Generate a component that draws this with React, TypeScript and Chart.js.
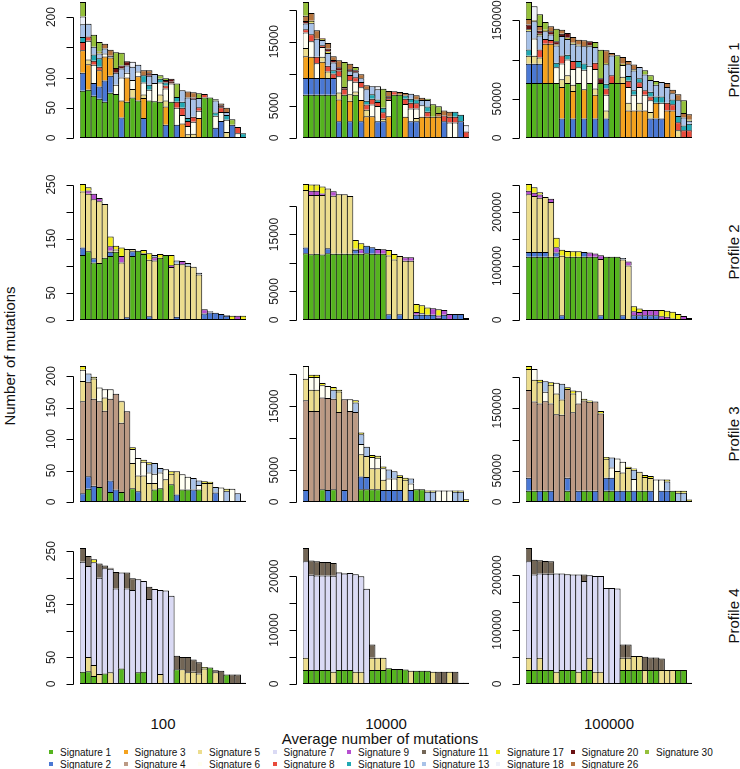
import { useEffect, useRef } from "react";
import { Chart, registerables } from "chart.js";

Chart.register(...registerables);

type Seg = [number, number];

const SIGNATURES = [1, 2, 3, 4, 5, 6, 7, 8, 9, 10, 11, 13, 17, 18, 20, 26, 30];
const SIGNATURE_COLORS = [
  "#55B41E", "#4A78D4", "#F4A21E", "#BC9A84", "#ECDD8E", "#FFFFF2", "#DADAF4", "#E84A3A", "#B64FD0",
  "#21A9B3", "#736656", "#A8C2E8", "#F2EE1C", "#EEF1FA", "#6A1012", "#B5743E", "#95C03B",
];
const LEGEND_ROW_1 = [1, 3, 5, 7, 9, 11, 17, 20, 30];
const LEGEND_ROW_2 = [2, 4, 6, 8, 10, 13, 18, 26];
const COLUMN_LABELS = ["100", "10000", "100000"];
const PROFILE_LABELS = ["Profile 1", "Profile 2", "Profile 3", "Profile 4"];
const X_TITLE = "Average number of mutations";
const Y_TITLE = "Number of mutations";

const TICKS_R1 = [[0, 50, 100, 150, 200], [0, 5000, 10000, 15000, 20000], [0, 50000, 100000, 150000]];
const SHOWN_R1 = [[0, 50, 100, 200], [0, 5000, 15000], [0, 50000, 150000]];
const TICKS_R2 = [[0, 50, 100, 150, 200, 250], [0, 5000, 10000, 15000, 20000], [0, 50000, 100000, 150000, 200000, 250000]];
const SHOWN_R2 = [[0, 50, 150, 250], [0, 5000, 15000], [0, 100000, 200000]];
const TICKS_R3 = [[0, 50, 100, 150, 200], [0, 5000, 10000, 15000, 20000], [0, 50000, 100000, 150000, 200000]];
const SHOWN_R3 = [[0, 50, 100, 150, 200], [0, 5000, 15000], [0, 50000, 150000]];
const TICKS_R4 = [[0, 50, 100, 150, 200, 250], [0, 5000, 10000, 15000, 20000], [0, 50000, 100000, 150000, 200000]];
const SHOWN_R4 = [[0, 50, 150, 250], [0, 10000, 20000], [0, 100000, 200000]];

const P1_100: Seg[][] = [
  [[1, 78], [2, 30], [3, 37], [8, 14], [10, 8], [13, 21], [18, 13], [30, 24]],
  [[1, 80], [3, 42], [5, 8], [6, 31], [8, 7], [13, 21]],
  [[1, 70], [2, 21], [6, 30], [8, 7], [10, 10], [13, 13], [30, 20]],
  [[1, 65], [2, 20], [3, 27], [8, 6], [10, 14], [13, 8], [17, 3], [30, 16]],
  [[1, 60], [2, 35], [3, 40], [6, 5], [13, 8], [26, 8]],
  [[1, 75], [2, 28], [3, 30], [13, 3], [26, 10]],
  [[1, 73], [6, 15], [13, 20], [20, 8], [30, 26]],
  [[2, 34], [3, 28], [6, 38], [13, 15], [20, 5], [30, 21]],
  [[1, 60], [3, 40], [6, 8], [13, 12], [20, 7]],
  [[1, 67], [5, 14], [6, 15], [13, 22], [18, 8]],
  [[1, 62], [3, 40], [6, 8], [13, 11]],
  [[2, 33], [3, 33], [5, 6], [6, 20], [10, 12], [26, 8]],
  [[1, 62], [6, 18], [10, 8], [13, 15], [20, 4], [26, 5]],
  [[1, 61], [6, 30], [13, 15]],
  [[1, 60], [5, 12], [6, 20], [10, 6], [30, 6]],
  [[2, 22], [3, 30], [5, 10], [6, 20], [8, 5], [10, 5], [20, 4], [30, 3]],
  [[1, 60], [6, 30], [8, 3], [20, 5]],
  [[2, 22], [6, 28], [8, 10], [10, 8], [30, 22]],
  [[3, 24], [6, 14], [8, 12], [10, 10], [13, 19]],
  [[5, 6], [6, 14], [8, 8], [10, 5], [13, 34], [26, 10]],
  [[5, 7], [6, 20], [8, 8], [13, 30], [20, 2], [26, 8.5]],
  [[3, 33], [6, 12], [8, 6], [13, 15], [30, 8]],
  [[1, 67], [8, 6]],
  [[1, 67]],
  [[2, 17], [6, 20], [10, 5], [13, 20], [30, 2]],
  [[2, 28], [6, 15], [8, 8], [20, 3], [26, 3]],
  [[5, 10], [6, 20], [10, 8], [13, 5], [26, 7]],
  [[2, 22], [30, 9]],
  [[6, 8], [8, 10]],
  [[10, 8]],
];

const P1_10000: Seg[][] = [
  [[1, 6750], [2, 2600], [3, 3370], [5, 1300], [6, 2400], [8, 500], [13, 900], [20, 400], [26, 800], [30, 2150]],
  [[1, 6750], [2, 2600], [3, 3300], [6, 2400], [8, 1100], [13, 1800], [17, 300], [26, 1210]],
  [[1, 6750], [2, 2600], [6, 2300], [8, 1000], [13, 2800], [26, 1310]],
  [[1, 6750], [2, 2600], [3, 2500], [5, 800], [6, 1500], [8, 300], [13, 800], [17, 200], [20, 120]],
  [[1, 6750], [2, 2600], [5, 1000], [8, 900], [13, 2000], [17, 200], [20, 500], [26, 840]],
  [[1, 6750], [2, 2600], [8, 700], [10, 500], [13, 1200], [20, 400], [26, 560]],
  [[2, 2600], [3, 3400], [5, 1100], [6, 2500], [8, 900], [20, 500], [26, 1090]],
  [[1, 6750], [8, 900], [20, 300], [30, 3880]],
  [[2, 2600], [3, 3200], [5, 1000], [6, 2200], [8, 800], [13, 600], [20, 300], [26, 870]],
  [[1, 6750], [5, 500], [6, 1500], [8, 700], [13, 800], [20, 300], [30, 500]],
  [[2, 2600], [3, 3300], [6, 2000], [8, 800], [13, 600], [26, 610]],
  [[3, 3400], [5, 1000], [8, 800], [10, 600], [13, 1800], [26, 600]],
  [[3, 3400], [6, 1800], [8, 900], [10, 700], [13, 1240]],
  [[2, 2600], [6, 2400], [8, 600], [10, 400], [13, 1600], [18, 440]],
  [[2, 2600], [5, 400], [8, 1000], [10, 700], [30, 2980]],
  [[3, 3400], [6, 2500], [8, 300], [20, 300], [26, 820]],
  [[1, 6750], [8, 520]],
  [[1, 6750], [26, 410]],
  [[3, 3300], [6, 2000], [8, 800], [10, 500], [26, 400]],
  [[2, 2600], [6, 2000], [8, 900], [10, 600], [13, 800]],
  [[2, 2600], [5, 500], [6, 1500], [8, 800], [10, 600], [26, 640]],
  [[3, 3300], [6, 1800], [13, 800], [26, 380]],
  [[3, 3300], [8, 800], [10, 800], [13, 1000], [30, 220]],
  [[3, 3300], [30, 1940]],
  [[3, 3300], [26, 600], [30, 1030]],
  [[2, 2600], [8, 900], [26, 800]],
  [[6, 2400], [8, 900], [26, 800]],
  [[6, 2400], [8, 900], [10, 800]],
  [[2, 2600], [10, 1030]],
  [[8, 1000], [18, 970]],
];

const P1_100000: Seg[][] = [
  [[1, 70000], [2, 24700], [5, 10000], [10, 8000], [13, 24000], [17, 2000], [20, 6000], [26, 7000], [30, 21600]],
  [[1, 70000], [2, 24700], [5, 10000], [6, 22000], [13, 22000], [17, 1500], [18, 17600]],
  [[1, 70000], [2, 24700], [5, 8000], [8, 10000], [13, 18000], [17, 2000], [20, 4000], [26, 6000], [30, 14900]],
  [[1, 70000], [3, 50000], [8, 6000], [13, 10000], [17, 2000], [30, 9800]],
  [[1, 70000], [3, 50000], [8, 5000], [13, 7000], [20, 4000], [26, 6300]],
  [[1, 70000], [6, 20000], [10, 6000], [13, 22000], [17, 1300], [20, 4000], [30, 16000]],
  [[2, 25000], [3, 40000], [5, 10000], [6, 20000], [8, 10000], [13, 25000], [20, 3000], [26, 5000]],
  [[1, 70000], [5, 10000], [6, 20000], [10, 6000], [13, 20000], [17, 1800], [20, 6000]],
  [[2, 25000], [3, 35000], [5, 8000], [6, 20000], [8, 10000], [13, 22000], [17, 1500], [26, 7200]],
  [[1, 70000], [6, 20000], [10, 8000], [13, 20000], [17, 1300], [26, 6000]],
  [[2, 25000], [3, 37000], [6, 25000], [10, 8000], [13, 22000], [26, 7500]],
  [[1, 70000], [6, 22000], [13, 25000], [17, 1200], [20, 5000]],
  [[2, 25000], [3, 30000], [5, 8000], [6, 25000], [8, 8000], [13, 20000], [30, 6300]],
  [[1, 70000], [20, 6000], [30, 36600]],
  [[2, 25000], [5, 10000], [6, 20000], [8, 8000], [10, 6000], [13, 25000], [17, 1700], [26, 16000]],
  [[1, 70000], [8, 10000], [13, 25000], [26, 3300]],
  [[1, 70000], [30, 35300]],
  [[3, 70000], [5, 8000], [6, 15000], [17, 1500], [26, 8700]],
  [[3, 35000], [5, 10000], [6, 20000], [8, 8000], [10, 6000], [13, 15000], [26, 4100]],
  [[3, 35000], [6, 20000], [10, 6000], [13, 25000], [17, 1500], [26, 6000]],
  [[3, 35000], [5, 10000], [6, 20000], [8, 6000], [10, 5000], [13, 14500]],
  [[3, 35000], [6, 20000], [8, 6000], [13, 20000], [30, 5200]],
  [[2, 25000], [5, 8000], [6, 15000], [8, 5000], [10, 6000], [13, 15000], [30, 5900]],
  [[2, 25000], [3, 20000], [10, 8000], [13, 15000], [30, 4600]],
  [[2, 25000], [6, 20000], [10, 8000], [13, 18400]],
  [[3, 35000], [8, 10000], [13, 20000], [26, 5100]],
  [[3, 35000], [8, 8000], [10, 6000], [13, 8000], [26, 4600]],
  [[5, 10000], [8, 10000], [10, 8000], [13, 20000], [26, 7600]],
  [[8, 10000], [10, 6000], [13, 10000], [26, 6000], [30, 16000]],
  [[8, 10000], [10, 8000], [13, 4000], [17, 1200], [26, 7000]],
];

const P2_100: Seg[][] = [
  [[1, 120], [2, 14], [5, 103], [17, 14]],
  [[1, 127], [5, 106], [9, 6], [17, 6]],
  [[1, 106], [2, 8], [5, 109], [9, 10]],
  [[1, 105], [5, 114], [9, 6]],
  [[1, 115], [5, 99]],
  [[1, 118], [2, 8], [5, 2], [9, 8], [17, 18]],
  [[1, 126], [5, 4], [17, 7]],
  [[5, 106], [9, 12], [17, 16]],
  [[2, 5], [5, 126]],
  [[1, 118], [2, 9], [5, 4]],
  [[1, 128]],
  [[1, 122], [5, 1], [17, 6]],
  [[2, 7], [5, 104], [17, 12]],
  [[5, 110], [9, 6], [13, 4]],
  [[1, 115], [17, 7]],
  [[1, 120]],
  [[5, 98], [9, 3], [17, 19]],
  [[2, 6], [5, 98], [13, 6]],
  [[5, 103], [9, 6]],
  [[5, 100], [13, 5]],
  [[5, 98.5]],
  [[5, 84], [13, 3]],
  [[2, 12], [9, 8]],
  [[2, 14], [13, 2]],
  [[2, 13.5]],
  [[2, 11]],
  [[2, 8], [13, 1]],
  [[17, 8]],
  [[9, 8]],
  [[17, 8]],
];

const P2_10000: Seg[][] = [
  [[1, 11700], [2, 1000], [5, 10100], [17, 1050]],
  [[1, 11520], [5, 10400], [9, 760], [17, 1070]],
  [[1, 11600], [5, 10300], [9, 750], [17, 1100]],
  [[1, 11500], [5, 10400], [9, 300], [17, 1200]],
  [[1, 11700], [2, 900], [5, 10450]],
  [[1, 11600], [5, 10200], [9, 800]],
  [[1, 11600], [5, 10450]],
  [[1, 11600], [5, 10450]],
  [[1, 11600], [5, 10160]],
  [[1, 11600], [2, 700], [5, 200], [17, 1540]],
  [[1, 11600], [5, 100], [9, 700], [17, 1050]],
  [[1, 11700], [2, 1300]],
  [[1, 11600], [2, 1150]],
  [[1, 11600], [9, 860]],
  [[1, 11600], [9, 800]],
  [[2, 1000], [5, 10300], [17, 980]],
  [[5, 10600], [17, 980]],
  [[2, 1000], [5, 10230]],
  [[5, 10400], [9, 600]],
  [[5, 10400], [9, 600]],
  [[2, 900], [9, 500], [17, 1400]],
  [[2, 900], [13, 300], [17, 1400]],
  [[2, 900], [17, 1300]],
  [[2, 900], [9, 1150]],
  [[2, 400], [9, 400], [17, 1070]],
  [[2, 900], [9, 850]],
  [[9, 1050]],
  [[2, 1050]],
  [[2, 1050]],
  [[13, 350]],
];

const P2_100000: Seg[][] = [
  [[1, 117000], [2, 9200], [5, 107000], [9, 6100], [17, 12700]],
  [[1, 117000], [2, 9200], [5, 103500], [9, 6100], [17, 10000]],
  [[1, 117000], [2, 9200], [5, 100400], [9, 6100], [17, 4000]],
  [[1, 117000], [2, 9200], [5, 101900]],
  [[1, 117000], [5, 101500], [9, 6000]],
  [[1, 117000], [2, 8000], [9, 10000], [17, 17500]],
  [[2, 9000], [5, 110000], [17, 11000]],
  [[1, 117000], [17, 11000]],
  [[1, 117000], [17, 10500]],
  [[1, 117000], [17, 10500]],
  [[1, 117000], [2, 9000]],
  [[1, 117000], [9, 8000]],
  [[1, 117000], [9, 6000]],
  [[2, 9000], [5, 104000], [9, 7000]],
  [[1, 117000]],
  [[1, 117000]],
  [[1, 117000]],
  [[2, 9000], [5, 103000], [13, 2700]],
  [[5, 101000], [9, 7600]],
  [[2, 9000], [9, 7000], [17, 9600]],
  [[2, 9000], [9, 6000], [17, 6400]],
  [[2, 9000], [9, 9300]],
  [[2, 9000], [9, 9300]],
  [[2, 9000], [9, 9300]],
  [[9, 7000], [17, 11300]],
  [[9, 6000], [17, 11000]],
  [[2, 3000], [17, 12250]],
  [[17, 11000]],
  [[9, 7300]],
  [[13, 3700]],
];

const P3_100: Seg[][] = [
  [[2, 14], [4, 146], [5, 32], [6, 18], [17, 6]],
  [[1, 21], [2, 20], [4, 150], [13, 13]],
  [[2, 26], [4, 138], [5, 32], [17, 3]],
  [[1, 24], [4, 136], [6, 22]],
  [[4, 145], [5, 21], [6, 13]],
  [[1, 16], [2, 18], [4, 130], [6, 15]],
  [[2, 20], [4, 152]],
  [[1, 16], [4, 110], [5, 34], [17, 1]],
  [[4, 144]],
  [[1, 22], [5, 40], [6, 22], [17, 3]],
  [[2, 17], [5, 25], [6, 28]],
  [[5, 42], [6, 22], [17, 3]],
  [[5, 30], [6, 17], [13, 13], [17, 3]],
  [[1, 20], [5, 10], [6, 15], [13, 17]],
  [[1, 22], [6, 25], [13, 7]],
  [[5, 36], [6, 16]],
  [[1, 28], [5, 17], [17, 4]],
  [[2, 12], [5, 37]],
  [[1, 20], [6, 24]],
  [[1, 20], [6, 20]],
  [[2, 20], [13, 18]],
  [[1, 20], [6, 7], [13, 7]],
  [[5, 30], [17, 3]],
  [[5, 30], [17, 2]],
  [[2, 15], [13, 9]],
  [[6, 23]],
  [[13, 18], [17, 3]],
  [[6, 21]],
  [[13, 14]],
  [[17, 2]],
];

const P3_10000: Seg[][] = [
  [[2, 1875], [4, 14070], [5, 3390], [6, 1980]],
  [[4, 14280], [5, 3330], [6, 1980], [17, 360]],
  [[4, 14280], [5, 3330], [6, 1980], [17, 360]],
  [[1, 1980], [4, 14380], [6, 1930], [17, 360]],
  [[2, 1900], [4, 14400], [6, 1900]],
  [[1, 2000], [4, 14200], [13, 1400], [17, 430]],
  [[4, 14100], [5, 3200], [17, 300]],
  [[2, 1900], [4, 14200]],
  [[4, 14280], [6, 1820]],
  [[4, 14100], [13, 1500], [17, 340]],
  [[1, 2000], [2, 2000], [5, 3500], [6, 1600], [13, 1500], [17, 290]],
  [[1, 2000], [2, 1900], [5, 3300], [13, 1450]],
  [[1, 2000], [5, 3300], [6, 1750], [17, 300]],
  [[1, 2000], [5, 3300], [6, 1640], [17, 300]],
  [[2, 1900], [5, 1600], [6, 1800], [17, 250]],
  [[2, 1900], [6, 1800], [13, 1400]],
  [[2, 1900], [6, 1800], [13, 1100]],
  [[2, 1900], [5, 2000], [17, 300]],
  [[5, 3500], [17, 300]],
  [[2, 1900], [6, 1000], [13, 800]],
  [[1, 2000]],
  [[1, 2000]],
  [[13, 1600], [17, 200]],
  [[13, 1600], [17, 200]],
  [[6, 1800]],
  [[6, 1800]],
  [[6, 1800]],
  [[13, 1600], [17, 200]],
  [[13, 1600], [17, 200]],
  [[17, 420]],
];

const P3_100000: Seg[][] = [
  [[1, 18000], [2, 21000], [4, 140500], [5, 33500], [17, 5000]],
  [[1, 18000], [4, 143000], [5, 35000], [6, 17000]],
  [[2, 18000], [4, 139800], [5, 34000], [17, 4000]],
  [[1, 18000], [4, 143600], [6, 15000], [13, 17000]],
  [[2, 18000], [4, 140000], [5, 30000], [17, 4000]],
  [[4, 140500], [5, 33500], [6, 17000]],
  [[4, 140000], [5, 24400], [13, 25000]],
  [[1, 18000], [2, 21000], [4, 142000], [17, 3000]],
  [[4, 143800], [5, 30000], [17, 5000]],
  [[2, 18000], [4, 139700], [6, 20000]],
  [[1, 18000], [4, 144500], [17, 3000]],
  [[1, 18000], [4, 142800], [17, 2000]],
  [[2, 18000], [4, 143200]],
  [[4, 141800], [17, 4000]],
  [[1, 18000], [2, 21000], [5, 30300], [17, 3000]],
  [[1, 18000], [2, 21000], [6, 16300], [13, 16000]],
  [[2, 18000], [5, 31700], [6, 20000]],
  [[2, 18000], [5, 29400], [6, 17000]],
  [[1, 18000], [5, 36400], [17, 2000]],
  [[2, 18000], [6, 18700], [13, 15000], [17, 2000]],
  [[1, 18000], [5, 30400]],
  [[1, 18000], [5, 22100], [17, 3000]],
  [[2, 18000], [5, 20500], [17, 3000]],
  [[6, 36200]],
  [[2, 18000], [6, 18200]],
  [[2, 18000], [13, 15000], [17, 3200]],
  [[1, 18000]],
  [[13, 15000], [17, 3000]],
  [[13, 15000], [17, 3000]],
  [[17, 4200]],
];

const P4_100: Seg[][] = [
  [[1, 23], [7, 207], [11, 26]],
  [[1, 24], [5, 27], [7, 171], [11, 19]],
  [[1, 15], [5, 21], [7, 193], [17, 6]],
  [[5, 19], [7, 181], [11, 27]],
  [[1, 20], [7, 198], [11, 5]],
  [[5, 22], [7, 195], [11, 2]],
  [[7, 180], [11, 31]],
  [[1, 29], [7, 181]],
  [[7, 180], [11, 30]],
  [[7, 177], [11, 22]],
  [[1, 22], [7, 175]],
  [[1, 23], [7, 171]],
  [[7, 160], [11, 23]],
  [[7, 179]],
  [[5, 19], [7, 158]],
  [[7, 176]],
  [[7, 166]],
  [[1, 28], [11, 25]],
  [[5, 28], [11, 23]],
  [[5, 22], [11, 29]],
  [[5, 23], [11, 23]],
  [[5, 20], [11, 21]],
  [[5, 29], [17, 3]],
  [[1, 31]],
  [[5, 22], [11, 4]],
  [[11, 25]],
  [[1, 18]],
  [[11, 18]],
  [[11, 18]],
  [[17, 2.5]],
];

const P4_10000: Seg[][] = [
  [[1, 2590], [5, 2280], [7, 17900], [11, 2470]],
  [[1, 2590], [7, 17700], [11, 2650]],
  [[1, 2590], [7, 17540], [11, 2640]],
  [[1, 2590], [7, 17540], [11, 2500]],
  [[1, 2590], [7, 17540], [11, 2500]],
  [[5, 2280], [7, 17800], [11, 2380]],
  [[1, 2590], [7, 18080], [11, 100]],
  [[1, 2590], [7, 17900], [11, 100]],
  [[1, 2590], [7, 18010]],
  [[5, 2280], [7, 18080]],
  [[5, 2280], [7, 17720]],
  [[7, 17700]],
  [[1, 2590], [5, 2280], [11, 2470]],
  [[1, 2590], [5, 2280]],
  [[1, 2590], [5, 2280]],
  [[1, 2900]],
  [[1, 2780]],
  [[1, 2780]],
  [[1, 2700]],
  [[5, 2470]],
  [[1, 2470]],
  [[1, 2470]],
  [[1, 2470]],
  [[5, 2280]],
  [[11, 2280]],
  [[11, 2280]],
  [[5, 2280]],
  [[11, 2280]],
  [[11, 250]],
  [[11, 250]],
];

const P4_100000: Seg[][] = [
  [[1, 25700], [5, 22600], [7, 177500], [11, 24500]],
  [[1, 25700], [7, 176000], [11, 27200]],
  [[1, 25700], [5, 22600], [7, 155000], [11, 24400]],
  [[1, 25700], [7, 177000], [11, 23700]],
  [[1, 25700], [7, 177000], [11, 23100]],
  [[5, 22600], [7, 180600]],
  [[1, 25700], [7, 177500]],
  [[1, 25700], [7, 176300]],
  [[1, 25700], [7, 175700]],
  [[5, 22600], [7, 178800]],
  [[1, 25700], [7, 164000], [11, 11700]],
  [[1, 25700], [5, 22600], [7, 151800]],
  [[5, 22600], [7, 176300]],
  [[5, 22600], [7, 176300]],
  [[7, 176800]],
  [[7, 176800]],
  [[7, 175600]],
  [[1, 25700], [5, 22600], [11, 24500]],
  [[1, 25700], [5, 22600], [11, 24500]],
  [[1, 25700], [5, 25700]],
  [[1, 25700], [5, 25700]],
  [[5, 25700], [11, 24500]],
  [[1, 25700], [11, 23300]],
  [[1, 25700], [11, 23300]],
  [[5, 25700], [11, 21400]],
  [[5, 25700]],
  [[5, 25700]],
  [[1, 25700]],
  [[1, 25700]],
  [[11, 2400]],
];

const ROWS = [
  { bars: [P1_100, P1_10000, P1_100000], ticks: TICKS_R1, shown: SHOWN_R1 },
  { bars: [P2_100, P2_10000, P2_100000], ticks: TICKS_R2, shown: SHOWN_R2 },
  { bars: [P3_100, P3_10000, P3_100000], ticks: TICKS_R3, shown: SHOWN_R3 },
  { bars: [P4_100, P4_10000, P4_100000], ticks: TICKS_R4, shown: SHOWN_R4 },
];

const ROW_BOTTOM = [138, 320, 502, 684];
const PLOT_H = 136;
const COL_BAR_LEFT = [80, 303, 526];
const PLOT_W = 166;
const PAD_L = 50, PAD_R = 3, PAD_T = 14, PAD_B = 7;
const FONT = "'Liberation Sans', Arial, Helvetica, sans-serif";

const rAxisPlugin = {
  id: "rAxis",
  afterDraw(chart: any, _args: any, opts: any) {
    const { ctx, chartArea, scales } = chart;
    const y = scales.y;
    const x0 = Math.round(chartArea.left - 7) + 0.5;
    const ticks: number[] = opts.ticks;
    const shown: number[] = opts.shown;
    ctx.save();
    ctx.strokeStyle = "#000";
    ctx.lineWidth = 1;
    ctx.beginPath();
    const yb = Math.round(y.getPixelForValue(ticks[0])) + 0.5;
    const yt = Math.round(y.getPixelForValue(ticks[ticks.length - 1])) + 0.5;
    ctx.moveTo(x0, yb);
    ctx.lineTo(x0, yt);
    for (const t of ticks) {
      const py = Math.round(y.getPixelForValue(t)) + 0.5;
      ctx.moveTo(x0 - 7, py);
      ctx.lineTo(x0, py);
    }
    ctx.stroke();
    ctx.fillStyle = "#222";
    ctx.font = `12px ${FONT}`;
    ctx.textAlign = "center";
    ctx.textBaseline = "middle";
    for (const t of shown) {
      const py = y.getPixelForValue(t);
      ctx.save();
      ctx.translate(x0 - 21.5, py);
      ctx.rotate(-Math.PI / 2);
      ctx.fillText(String(t), 0, 0);
      ctx.restore();
    }
    ctx.restore();
  },
};

function Panel({ bars, ticks, shown, left, top }: { bars: Seg[][]; ticks: number[]; shown: number[]; left: number; top: number }) {
  const ref = useRef<HTMLCanvasElement>(null);
  const W = PAD_L + PLOT_W + PAD_R;
  const H = PAD_T + PLOT_H + PAD_B;
  useEffect(() => {
    const n = bars.length;
    const used = SIGNATURES.filter((s) => bars.some((b) => b.some((seg) => seg[0] === s)));
    const datasets = used.map((s) => ({
      label: "Signature " + s,
      data: bars.map((b) => {
        const seg = b.find((x) => x[0] === s);
        return seg ? seg[1] : null;
      }),
      backgroundColor: SIGNATURE_COLORS[SIGNATURES.indexOf(s)],
      borderColor: "#000",
    }));
    const firstDs = bars.map((b) => used.indexOf(Math.min(...b.map((x) => x[0]))));
    const maxTotal = Math.max(...bars.map((b) => b.reduce((a, x) => a + x[1], 0)));
    const catW = PLOT_W / n;
    const chart = new Chart(ref.current as HTMLCanvasElement, {
      type: "bar",
      data: { labels: bars.map((_, i) => String(i + 1)), datasets: datasets as any },
      options: {
        animation: false,
        responsive: false,
        devicePixelRatio: 1,
        layout: { padding: { left: PAD_L, right: PAD_R, top: PAD_T, bottom: PAD_B } },
        plugins: {
          legend: { display: false },
          tooltip: { enabled: false },
          rAxis: { ticks, shown },
        } as any,
        datasets: {
          bar: {
            categoryPercentage: 1,
            barPercentage: (catW + 1) / catW,
            borderSkipped: false,
            borderWidth: (c: any) => ({ top: 1, left: 1, right: 1, bottom: c.datasetIndex === firstDs[c.dataIndex] ? 1 : 0 }),
          } as any,
        },
        scales: {
          x: { stacked: true, display: false, offset: true },
          y: { stacked: true, display: false, min: 0, max: maxTotal },
        },
      },
      plugins: [rAxisPlugin as any],
    });
    return () => chart.destroy();
  }, []);
  return (
    <canvas
      ref={ref}
      width={W}
      height={H}
      style={{ position: "absolute", left, top, width: W, height: H }}
    />
  );
}

const textStyle = (x: number, y: number, size: number, rotate = false): any => ({
  position: "absolute",
  left: x,
  top: y,
  transform: `translate(-50%, -50%)${rotate ? " rotate(-90deg)" : ""}`,
  fontFamily: FONT,
  fontSize: size,
  whiteSpace: "nowrap",
  color: "#111",
  lineHeight: 1,
});

export default function App() {
  const PROFILE_Y = [70, 252, 434, 616];
  const COL_CENTER = [163, 386, 609];
  return (
    <div style={{ position: "absolute", left: 0, top: 0, width: 740, height: 769, background: "#fff", overflow: "hidden" }}>
      {ROWS.map((row, r) =>
        row.bars.map((bars, c) => (
          <Panel
            key={`${r}-${c}`}
            bars={bars}
            ticks={row.ticks[c]}
            shown={row.shown[c]}
            left={COL_BAR_LEFT[c] - PAD_L}
            top={ROW_BOTTOM[r] - PLOT_H - PAD_T}
          />
        ))
      )}
      {PROFILE_LABELS.map((p, r) => (
        <div key={p} style={textStyle(733, PROFILE_Y[r], 15, true)}>{p}</div>
      ))}
      <div style={textStyle(9, 356, 15, true)}>{Y_TITLE}</div>
      {COLUMN_LABELS.map((l, c) => (
        <div key={l} style={textStyle(COL_CENTER[c], 723, 15)}>{l}</div>
      ))}
      <div style={textStyle(380, 738, 15)}>{X_TITLE}</div>
      {[LEGEND_ROW_1, LEGEND_ROW_2].map((row, ri) =>
        row.map((s, k) => (
          <div
            key={s}
            style={{
              position: "absolute",
              left: 49 + k * 74.5,
              top: (ri === 0 ? 752 : 764) - 6,
              height: 12,
              display: "flex",
              alignItems: "center",
              fontFamily: FONT,
              fontSize: 10,
              whiteSpace: "nowrap",
              color: "#111",
            }}
          >
            <span style={{ display: "inline-block", width: 4, height: 4, background: SIGNATURE_COLORS[SIGNATURES.indexOf(s)], marginRight: 7 }} />
            {"Signature " + s}
          </div>
        ))
      )}
    </div>
  );
}
